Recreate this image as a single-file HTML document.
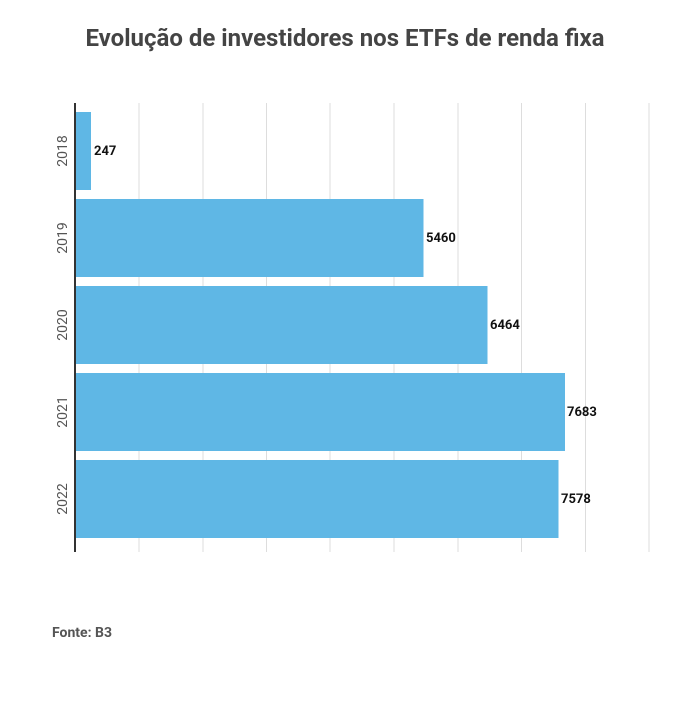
<!DOCTYPE html>
<html><head><meta charset="utf-8"><style>
body{margin:0;background:#fff;}
</style></head><body>
<svg width="700" height="699" xmlns="http://www.w3.org/2000/svg" font-family="Roboto, 'Liberation Sans', sans-serif">
<rect width="700" height="699" fill="#fff"/>
<text x="345" y="46" text-anchor="middle" font-size="24" font-weight="bold" fill="#444">Evolução de investidores nos ETFs de renda fixa</text>
<g stroke="#ddd" stroke-width="1">
<line x1="139" y1="103" x2="139" y2="552"/>
<line x1="203" y1="103" x2="203" y2="552"/>
<line x1="266.5" y1="103" x2="266.5" y2="552"/>
<line x1="330" y1="103" x2="330" y2="552"/>
<line x1="394" y1="103" x2="394" y2="552"/>
<line x1="458" y1="103" x2="458" y2="552"/>
<line x1="521.5" y1="103" x2="521.5" y2="552"/>
<line x1="585.5" y1="103" x2="585.5" y2="552"/>
<line x1="649" y1="103" x2="649" y2="552"/>
</g>
<g fill="#5fb7e5">
<rect x="75" y="112" width="16" height="78"/>
<rect x="75" y="199" width="348.5" height="78"/>
<rect x="75" y="286" width="412.5" height="78"/>
<rect x="75" y="373" width="490" height="78"/>
<rect x="75" y="460" width="483.5" height="78"/>
</g>
<line x1="75" y1="103" x2="75" y2="552" stroke="#333" stroke-width="2"/>
<g font-size="13" font-weight="bold" fill="#111">
<text x="94" y="155">247</text>
<text x="426" y="242">5460</text>
<text x="490" y="329">6464</text>
<text x="567" y="416">7683</text>
<text x="561" y="503">7578</text>
</g>
<g font-size="14" fill="#555" text-anchor="middle">
<text transform="translate(67,151) rotate(-90)">2018</text>
<text transform="translate(67,238) rotate(-90)">2019</text>
<text transform="translate(67,325) rotate(-90)">2020</text>
<text transform="translate(67,412) rotate(-90)">2021</text>
<text transform="translate(67,499) rotate(-90)">2022</text>
</g>
<text x="52" y="637" font-size="14" font-weight="bold" fill="#555">Fonte: B3</text>
</svg>
</body></html>
